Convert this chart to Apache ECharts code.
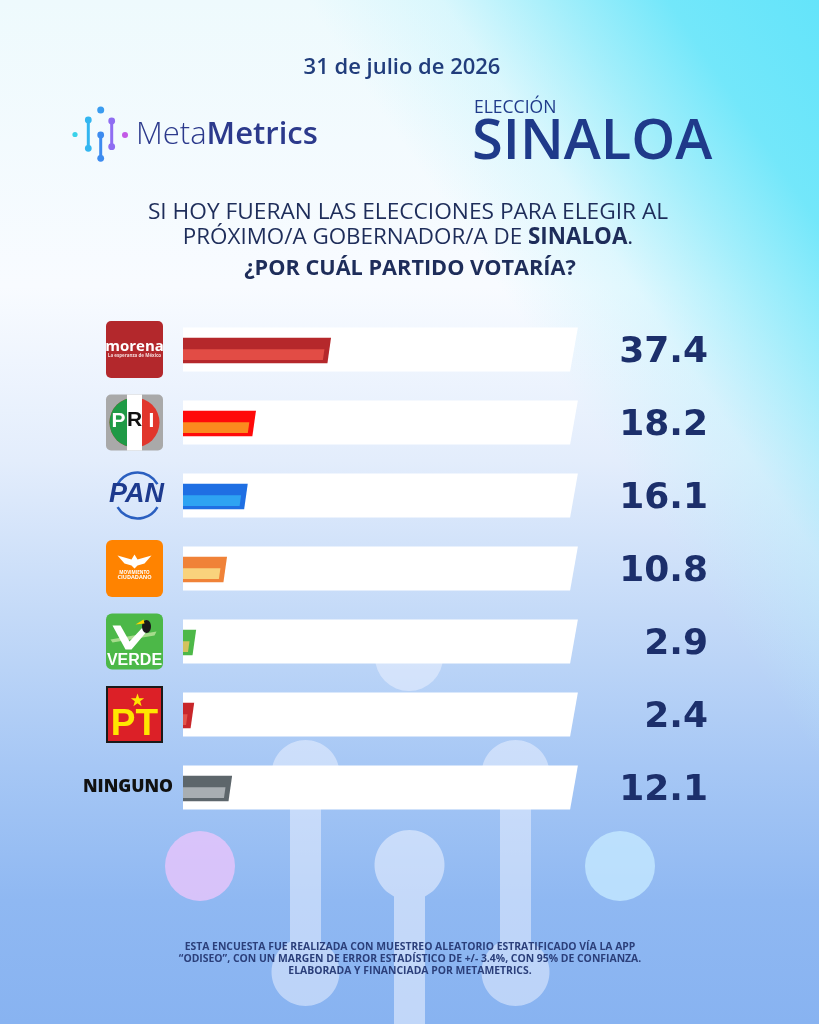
<!DOCTYPE html>
<html lang="es">
<head>
  <meta charset="UTF-8">
  <title>Elección Sinaloa - MetaMetrics</title>
  <style>
    html, body { margin: 0; padding: 0; }
    #chart {
      width: 819px;
      height: 1024px;
      background:
        linear-gradient(236deg, rgba(100,228,250,1) 0%, rgba(108,230,250,0.95) 10%, rgba(135,234,250,0.75) 17%, rgba(185,242,252,0.4) 25%, rgba(255,255,255,0) 34%),
        linear-gradient(to bottom, #eefafd 0%, #f8fbff 28%, #e3edfc 45%, #c4daf8 60%, #a6c7f5 75%, #8fb8f2 88%, #88b3f1 100%);
    }
  </style>
</head>
<body>
<div id="chart"></div>

<script src="https://cdn.jsdelivr.net/npm/echarts@6/dist/echarts.min.js"></script>
<script>
  // datos de la encuesta
  const categories = ['MORENA', 'PRI', 'PAN', 'MC', 'VERDE', 'PT', 'NINGUNO'];
  const values = [37.4, 18.2, 16.1, 10.8, 2.9, 2.4, 12.1];
  const scaleMax = 100;

  // colores de cada barra (borde oscuro / franja clara)
  const outerColors = ['#b5282b', '#ff0a0a', '#1f6fe3', '#f08238', '#4db848', '#c8262a', '#5d666b'];
  const innerColors = ['#e24c45', '#fb8a1e', '#2ea3f2', '#f9d27c', '#d2c25e', '#e2534a', '#a8aeb2'];

  const navy = '#1c2f6b';
  const headFont = '"Open Sans", "Noto Sans", sans-serif';

  function starPoints(cx, cy, R, r) {
    const pts = [];
    for (let k = 0; k < 10; k++) {
      const a = -Math.PI / 2 + k * Math.PI / 5;
      const rad = k % 2 ? r : R;
      pts.push([cx + rad * Math.cos(a), cy + rad * Math.sin(a)]);
    }
    return pts;
  }

  // contorno de "palito" con circulos en los extremos (una sola figura, sin traslapes)
  function capsule(cx, y1, y2, r, w) {
    const hw = w / 2, dy = Math.sqrt(r * r - hw * hw), a0 = Math.atan2(dy, hw);
    const span = Math.PI + 2 * a0, n = 60, pts = [];
    for (let k = 0; k <= n; k++) {
      const t = a0 - k * span / n;
      pts.push([cx + r * Math.cos(t), y1 + r * Math.sin(t)]);
    }
    if (y2 == null) {
      pts.push([cx - hw, 1030], [cx + hw, 1030]);
    } else {
      for (let k = 0; k <= n; k++) {
        const t = Math.PI + a0 - k * span / n;
        pts.push([cx + r * Math.cos(t), y2 + r * Math.sin(t)]);
      }
    }
    return pts;
  }

  function txt(text, x, y, font, fill, align) {
    return {
      type: 'text',
      style: { text: text, x: x, y: y, font: font, fill: fill, textAlign: align || 'center', textVerticalAlign: 'middle' }
    };
  }

  // logos de los partidos
  const logos = {
    MORENA: function (cx, cy) {
      return [
        { type: 'rect', shape: { x: cx - 28.5, y: cy - 28.5, width: 57, height: 57, r: 5 }, style: { fill: '#b3282c' } },
        txt('morena', cx, cy - 3, 'bold 15px ' + headFont, '#fff'),
        txt('La esperanza de México', cx, cy + 6, 'bold 4.5px ' + headFont, '#f5dada')
      ];
    },
    PRI: function (cx, cy) {
      return [
        { type: 'rect', shape: { x: cx - 28.5, y: cy - 28, width: 57, height: 56, r: 5 }, style: { fill: '#a9a9a9' } },
        { type: 'circle', shape: { cx: cx, cy: cy, r: 25 }, style: { fill: '#e1362c' } },
        { type: 'sector', shape: { cx: cx, cy: cy, r: 25, r0: 0, startAngle: Math.PI / 2, endAngle: Math.PI * 1.5, clockwise: true }, style: { fill: '#1f9a46' } },
        { type: 'rect', shape: { x: cx - 7.5, y: cy - 28, width: 15, height: 56 }, style: { fill: '#ffffff' } },
        txt('P', cx - 16, cy - 1, 'bold 21px "Liberation Sans"', '#ffffff'),
        txt('R', cx, cy - 2, 'bold 21px "Liberation Sans"', '#111111'),
        txt('I', cx + 17, cy - 1, 'bold 21px "Liberation Sans"', '#ffffff')
      ];
    },
    PAN: function (cx, cy) {
      const x = cx + 3;
      return [
        { type: 'arc', shape: { cx: x, cy: cy, r: 23, startAngle: 210 * Math.PI / 180, endAngle: 330 * Math.PI / 180, clockwise: true }, style: { stroke: '#2a5fc0', lineWidth: 2.5, fill: null } },
        { type: 'arc', shape: { cx: x, cy: cy, r: 23, startAngle: 30 * Math.PI / 180, endAngle: 150 * Math.PI / 180, clockwise: true }, style: { stroke: '#2a5fc0', lineWidth: 2.5, fill: null } },
        txt('PAN', x - 1, cy - 1, 'italic bold 27px "Liberation Sans"', '#1d3a8e')
      ];
    },
    MC: function (cx, cy) {
      const wing = [[-17, -12], [-3, -8], [0, -13], [3, -8], [17, -12], [10, -4], [3, -2], [0, 1], [-3, -2], [-10, -4]]
        .map(function (p) { return [cx + p[0], cy + p[1] - 1]; });
      return [
        { type: 'rect', shape: { x: cx - 28.5, y: cy - 28.5, width: 57, height: 57, r: 6 }, style: { fill: '#ff8300' } },
        { type: 'polygon', shape: { points: wing }, style: { fill: '#ffffff' } },
        txt('MOVIMIENTO', cx, cy + 4.5, 'bold 4.5px ' + headFont, '#ffffff'),
        txt('CIUDADANO', cx, cy + 9, 'bold 5.5px ' + headFont, '#ffffff')
      ];
    },
    VERDE: function (cx, cy) {
      const check = [[-22, -16], [-14, -16], [-5, 0], [8, -14], [14, -12], [-3, 8], [-9, 8]]
        .map(function (p) { return [cx + p[0], cy + p[1]]; });
      const swoosh = [[-24, -2], [22, -10], [20, -6], [-22, 1]]
        .map(function (p) { return [cx + p[0], cy + p[1]]; });
      return [
        { type: 'rect', shape: { x: cx - 28.5, y: cy - 28, width: 57, height: 56, r: 6 }, style: { fill: '#4cb848' } },
        { type: 'polygon', shape: { points: swoosh }, style: { fill: '#a6dc8c' } },
        { type: 'polygon', shape: { points: check }, style: { fill: '#ffffff' } },
        { type: 'ellipse', shape: { cx: cx + 12, cy: cy - 15, rx: 4.5, ry: 6.5 }, style: { fill: '#1a1a1a' } },
        { type: 'polygon', shape: { points: [[cx + 9, cy - 22], [cx + 1, cy - 17], [cx + 10, cy - 18]] }, style: { fill: '#ffd400' } },
        txt('VERDE', cx, cy + 19.5, 'bold 16px "Liberation Sans"', '#ffffff')
      ];
    },
    PT: function (cx, cy) {
      return [
        { type: 'rect', shape: { x: cx - 27.5, y: cy - 27.5, width: 55, height: 55 }, style: { fill: '#dc2027', stroke: '#1a1a1a', lineWidth: 2 } },
        { type: 'polygon', shape: { points: starPoints(cx + 3, cy - 14, 7, 2.8) }, style: { fill: '#ffe600' } },
        txt('PT', cx, cy + 10, 'bold 37px "Liberation Sans"', '#ffe600')
      ];
    },
    NINGUNO: function (cx, cy) {
      return [txt('NINGUNO', cx + 38.5, cy, '800 17.5px ' + headFont, '#111111', 'right')];
    }
  };

  function renderTrack(params, api) {
    const i = api.value(1);
    const start = api.coord([0, i]);
    const end = api.coord([api.value(0), i]);
    const h = api.size([0, 1])[1] * 0.6;
    const s = 3.9;
    const cy = start[1];
    return {
      type: 'polygon',
      shape: {
        points: [[start[0], cy - h / 2], [end[0] + s, cy - h / 2], [end[0] - s, cy + h / 2], [start[0], cy + h / 2]]
      },
      style: { fill: '#ffffff' }
    };
  }

  function renderBar(params, api) {
    const idx = params.dataIndex;
    const i = api.value(1);
    const v = api.value(0);
    const start = api.coord([0, i]);
    const end = api.coord([v, i]);
    const band = api.size([0, 1])[1];
    const h = band * 0.35;
    const cy = start[1] + 1;
    const top = cy - h / 2;
    const s = 1.8;
    const x0 = start[0];
    const x1 = end[0];
    const rightAt = function (y) { return x1 + s - (y - top) / h * 2 * s; };
    const it = top + h * 0.45;
    const ib = top + h * 0.875;
    const numX = api.coord([scaleMax, i])[0] + 134;
    return {
      type: 'group',
      children: [
        {
          type: 'polygon',
          shape: { points: [[x0, top], [rightAt(top), top], [rightAt(top + h), top + h], [x0, top + h]] },
          style: { fill: outerColors[idx] }
        },
        {
          type: 'polygon',
          shape: { points: [[x0, it], [Math.max(x0, rightAt(it) - 5), it], [Math.max(x0, rightAt(ib) - 5), ib], [x0, ib]] },
          style: { fill: innerColors[idx] }
        },
        {
          type: 'text',
          style: {
            text: v.toFixed(1), x: numX, y: cy + 2,
            font: 'bold 36px "DejaVu Sans"', fill: navy,
            textAlign: 'right', textVerticalAlign: 'middle'
          }
        }
      ]
    };
  }

  function renderLogo(params, api) {
    const i = api.value(1);
    const p = api.coord([0, i]);
    const name = categories[params.dataIndex];
    return { type: 'group', children: logos[name](p[0] - 48.5, p[1]) };
  }

  // fondo: figuras del logotipo, en grande y translucidas
  const soft = 'rgba(240,244,255,0.5)';
  const deco = [
    { type: 'circle', shape: { cx: 409, cy: 657, r: 34 }, style: { fill: soft } },
    { type: 'polygon', shape: { points: capsule(305.5, 774, 972, 34, 31) }, style: { fill: soft } },
    { type: 'polygon', shape: { points: capsule(515.5, 774, 972, 34, 31) }, style: { fill: soft } },
    { type: 'polygon', shape: { points: capsule(409.5, 865, null, 35, 31) }, style: { fill: 'rgba(240,244,255,0.55)' } },
    { type: 'circle', shape: { cx: 200, cy: 866, r: 35 }, style: { fill: 'rgba(228,196,250,0.85)' } },
    { type: 'circle', shape: { cx: 620, cy: 866, r: 35 }, style: { fill: 'rgba(196,232,255,0.8)' } }
  ].map(function (e) { e.z = 0; e.silent = true; return e; });

  // logotipo MetaMetrics
  const iconColor = ['#39d2ea', '#33b6f0', '#3a9cf0', '#3d8bef', '#8f6df2', '#c35ae6'];
  function stick(x, y1, y2, color) {
    return [
      { type: 'line', shape: { x1: x, y1: y1, x2: x, y2: y2 }, style: { stroke: color, lineWidth: 3 } },
      { type: 'circle', shape: { cx: x, cy: y1, r: 3.4 }, style: { fill: color } },
      { type: 'circle', shape: { cx: x, cy: y2, r: 3.4 }, style: { fill: color } }
    ];
  }
  const icon = [].concat(
    [{ type: 'circle', shape: { cx: 75, cy: 134.5, r: 2.6 }, style: { fill: iconColor[0] } }],
    stick(88.3, 120, 148.3, iconColor[1]),
    [{ type: 'circle', shape: { cx: 100.7, cy: 110, r: 3.5 }, style: { fill: iconColor[2] } }],
    stick(100.7, 135, 158.3, iconColor[3]),
    stick(111.7, 121, 146.7, iconColor[4]),
    [{ type: 'circle', shape: { cx: 125, cy: 135, r: 3 }, style: { fill: iconColor[5] } }]
  );

  function headText(text, x, y, font, fill, align) {
    return {
      type: 'text', z: 10, x: x, y: y,
      style: { text: text, font: font, fill: fill, textAlign: align || 'center', textVerticalAlign: 'middle' }
    };
  }

  const footFont = '700 10.4px ' + headFont;
  const header = [
    headText('31 de julio de 2026', 402, 68, '600 22px ' + headFont, '#213d7c'),
    {
      type: 'text', z: 10, x: 136, y: 135,
      style: {
        text: '{a|Meta}{b|Metrics}', textAlign: 'left', textVerticalAlign: 'middle',
        rich: {
          a: { fontFamily: headFont, fontSize: 31, fontWeight: 300, fill: '#2c3a8c', color: '#2c3a8c' },
          b: { fontFamily: headFont, fontSize: 31, fontWeight: 600, fill: '#2c3a8c', color: '#2c3a8c' }
        }
      }
    },
    headText('ELECCIÓN', 474, 108, '500 17.5px ' + headFont, '#1f3a8a', 'left'),
    headText('SINALOA', 472, 143, '600 56px ' + headFont, '#1f3a8a', 'left'),
    headText('SI HOY FUERAN LAS ELECCIONES PARA ELEGIR AL', 408, 213, '400 22.7px ' + headFont, '#1e2d5a'),
    {
      type: 'text', z: 10, x: 408, y: 238,
      style: {
        text: '{a|PRÓXIMO/A GOBERNADOR/A DE }{b|SINALOA}{a|.}', textAlign: 'center', textVerticalAlign: 'middle',
        rich: {
          a: { fontFamily: headFont, fontSize: 22.4, fontWeight: 400, fill: '#1e2d5a', color: '#1e2d5a' },
          b: { fontFamily: headFont, fontSize: 22.4, fontWeight: 700, fill: '#1e2d5a', color: '#1e2d5a' }
        }
      }
    },
    headText('¿POR CUÁL PARTIDO VOTARÍA?', 410, 269, '700 21.7px ' + headFont, '#1e2d5a'),
    headText('ESTA ENCUESTA FUE REALIZADA CON MUESTREO ALEATORIO ESTRATIFICADO VÍA LA APP', 410, 947, footFont, '#2b3f7a'),
    headText('“ODISEO”, CON UN MARGEN DE ERROR ESTADÍSTICO DE +/- 3.4%, CON 95% DE CONFIANZA.', 410, 958.7, footFont, '#2b3f7a'),
    headText('ELABORADA Y FINANCIADA POR METAMETRICS.', 410, 970.7, footFont, '#2b3f7a')
  ];

  const rows = values.map(function (v, i) { return [v, i]; });
  const full = values.map(function (v, i) { return [scaleMax, i]; });

  const option = {
    animation: false,
    graphic: { elements: deco.concat(icon.map(function (e) { e.z = 10; return e; }), header) },
    grid: { left: 183, right: 245, top: 313, bottom: 200 },
    xAxis: { type: 'value', min: 0, max: scaleMax, show: false },
    yAxis: { type: 'category', data: categories, inverse: true, show: false },
    series: [
      { type: 'custom', name: 'fondo', z: 2, data: full, encode: { x: 0, y: 1 }, renderItem: renderTrack },
      { type: 'custom', name: 'votos', z: 3, data: rows, encode: { x: 0, y: 1 }, renderItem: renderBar },
      { type: 'custom', name: 'logos', z: 3, data: full, encode: { x: 0, y: 1 }, renderItem: renderLogo }
    ]
  };

  const myChart = echarts.init(document.getElementById('chart'));
  myChart.setOption(option);
</script>
</body>
</html>
